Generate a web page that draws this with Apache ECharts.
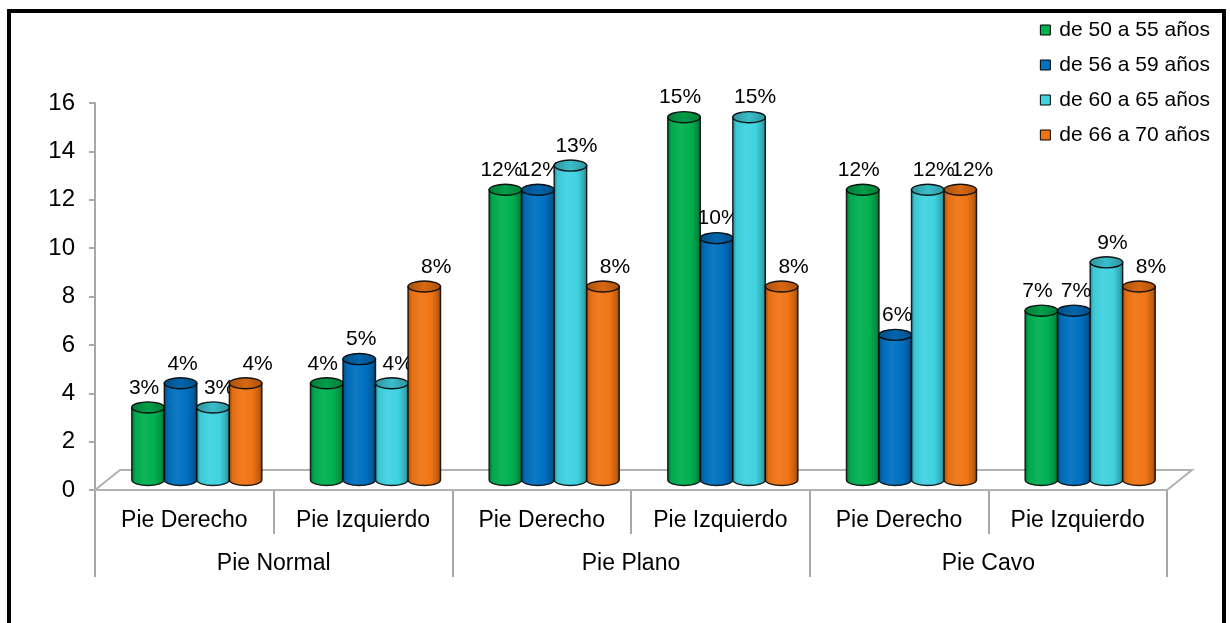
<!DOCTYPE html>
<html>
<head>
<meta charset="utf-8">
<script src="https://cdn.jsdelivr.net/npm/echarts@6/dist/echarts.min.js"></script>
<style>
  html, body { margin: 0; padding: 0; background: #fff; }
  #chart { width: 1230px; height: 623px; }
</style>
</head>
<body>
<div id="chart"></div>
<script>
// Categories (two-level axis)
const subCategories = ['Pie Derecho', 'Pie Izquierdo', 'Pie Derecho', 'Pie Izquierdo', 'Pie Derecho', 'Pie Izquierdo'];
const groupCategories = ['Pie Normal', 'Pie Plano', 'Pie Cavo'];

// Series
const seriesNames = ['de 50 a 55 años', 'de 56 a 59 años', 'de 60 a 65 años', 'de 66 a 70 años'];
const age50to55 = [3, 4, 12, 15, 12, 7];
const age56to59 = [4, 5, 12, 10, 6, 7];
const age60to65 = [3, 4, 13, 15, 12, 9];
const age66to70 = [4, 8, 8, 8, 12, 8];
const seriesValues = [age50to55, age56to59, age60to65, age66to70];

// Value axis ticks
const yMin = 0, yMax = 16, yStep = 2;

// Styling
const colors = ['#00B050', '#0070C0', '#40D2E0', '#F07414'];
const labelShift = [-4, 2, 6, 12];
const DEPTH_DX = 25, DEPTH_DY = -20;   // oblique depth of the 3D floor
const BAR_RATIO = 0.182;                // cylinder width as a share of a category band
const FONT = 'Liberation Sans';

function shade(hex, f) {
  const n = parseInt(hex.slice(1), 16);
  let r = (n >> 16) & 255, g = (n >> 8) & 255, b = n & 255;
  const t = f < 0 ? 0 : 255, p = Math.abs(f);
  r = Math.round((t - r) * p + r); g = Math.round((t - g) * p + g); b = Math.round((t - b) * p + b);
  return 'rgb(' + r + ',' + g + ',' + b + ')';
}

function cylinderRenderer(si) {
  const base = colors[si];
  return function (params, api) {
    const xi = api.value(0), v = api.value(1);
    const p0 = api.coord([xi, 0]);
    const p1 = api.coord([xi, v]);
    const bw = api.size([1, 0])[0];
    const w = bw * BAR_RATIO;
    const cx = p0[0] + (si - 1.5) * w + DEPTH_DX / 2;
    const yb = p0[1] + DEPTH_DY / 2;
    const yt = p1[1] + DEPTH_DY / 2;
    const rx = w / 2, ry = w * 0.17;
    const x0 = cx - rx, x1 = cx + rx;
    const bodyFill = {
      type: 'linear', x: 0, y: 0, x2: 1, y2: 0,
      colorStops: [
        { offset: 0, color: shade(base, -0.4) },
        { offset: 0.12, color: shade(base, -0.05) },
        { offset: 0.4, color: shade(base, 0.06) },
        { offset: 0.7, color: base },
        { offset: 0.9, color: shade(base, -0.2) },
        { offset: 1, color: shade(base, -0.5) }
      ]
    };
    const topFill = {
      type: 'linear', x: 0, y: 0, x2: 1, y2: 0,
      colorStops: [
        { offset: 0, color: shade(base, -0.3) },
        { offset: 0.5, color: shade(base, -0.1) },
        { offset: 1, color: shade(base, -0.3) }
      ]
    };
    return {
      type: 'group',
      children: [
        {
          type: 'path',
          shape: {
            pathData: 'M' + x0 + ',' + yt + ' L' + x0 + ',' + yb +
              ' A' + rx + ',' + ry + ' 0 0 0 ' + x1 + ',' + yb +
              ' L' + x1 + ',' + yt + ' Z'
          },
          style: { fill: bodyFill, stroke: 'rgba(10,10,10,0.9)', lineWidth: 1.4 }
        },
        {
          type: 'ellipse',
          shape: { cx: cx, cy: yt, rx: rx, ry: ry },
          style: { fill: topFill, stroke: 'rgba(10,10,10,0.95)', lineWidth: 1.4 }
        },
        {
          type: 'text',
          style: {
            text: v + '%', x: cx + labelShift[si], y: yt - 9,
            align: 'center', verticalAlign: 'bottom',
            fontSize: 21, fontFamily: FONT, fill: '#000'
          }
        }
      ]
    };
  };
}

function floorRenderer(params, api) {
  const bw = api.size([1, 0])[0];
  const l = api.coord([0, 0]);
  const r = api.coord([subCategories.length - 1, 0]);
  const x0 = l[0] - bw / 2, x1 = r[0] + bw / 2, y = l[1];
  return {
    type: 'polygon',
    shape: { points: [[x0, y], [x1, y], [x1 + DEPTH_DX, y + DEPTH_DY], [x0 + DEPTH_DX, y + DEPTH_DY]] },
    style: { fill: '#fff', stroke: '#b2b2b2', lineWidth: 2 }
  };
}

const series = [{
  type: 'custom', name: 'floor', xAxisIndex: 0, yAxisIndex: 0, z: 1, silent: true,
  renderItem: floorRenderer, encode: { x: 0, y: 1 }, data: [[0, 0]]
}];
seriesValues.forEach(function (vals, si) {
  series.push({
    type: 'custom', name: seriesNames[si], xAxisIndex: 0, yAxisIndex: 0, z: 2,
    itemStyle: { color: colors[si] },
    renderItem: cylinderRenderer(si), encode: { x: 0, y: 1 },
    data: vals.map(function (v, i) { return [i, v]; })
  });
});

const chart = echarts.init(document.getElementById('chart'));
chart.setOption({
  animation: false,
  backgroundColor: '#fff',
  graphic: [{
    type: 'rect', z: 100, silent: true,
    shape: { x: 9, y: 11, width: 1215, height: 700 },
    style: { fill: 'none', stroke: '#000', lineWidth: 4 }
  }],
  grid: { left: 95, right: 63, top: 103, bottom: 133 },
  legend: {
    data: seriesNames, orient: 'vertical', right: 15, top: 14,
    icon: 'rect', itemWidth: 10, itemHeight: 10, itemGap: 13,
    itemStyle: { borderColor: '#000', borderWidth: 1 },
    textStyle: { fontSize: 21, fontFamily: FONT, color: '#000', lineHeight: 22, padding: [0, 0, 0, 4] }
  },
  xAxis: [
    {
      type: 'category', data: subCategories, position: 'bottom',
      axisLine: { show: true, lineStyle: { color: '#a8a8a8', width: 2 } },
      axisTick: { show: true, interval: 0, length: 44, lineStyle: { color: '#a8a8a8', width: 2 } },
      axisLabel: { interval: 0, margin: 19, fontSize: 23, fontFamily: FONT, color: '#000' },
      splitLine: { show: false }
    },
    {
      type: 'category', data: groupCategories, position: 'bottom',
      axisLine: { show: false },
      axisTick: { show: true, interval: 0, length: 87, lineStyle: { color: '#a8a8a8', width: 2 } },
      axisLabel: { interval: 0, margin: 62, fontSize: 23, fontFamily: FONT, color: '#000' },
      splitLine: { show: false }
    }
  ],
  yAxis: {
    type: 'value', min: yMin, max: yMax, interval: yStep,
    axisLine: { show: true, lineStyle: { color: '#a8a8a8', width: 2 } },
    axisTick: { show: true, length: 6, lineStyle: { color: '#a8a8a8', width: 2 } },
    axisLabel: { margin: 20, fontSize: 24, fontFamily: FONT, color: '#000' },
    splitLine: { show: false }
  },
  series: series
});
</script>
</body>
</html>
